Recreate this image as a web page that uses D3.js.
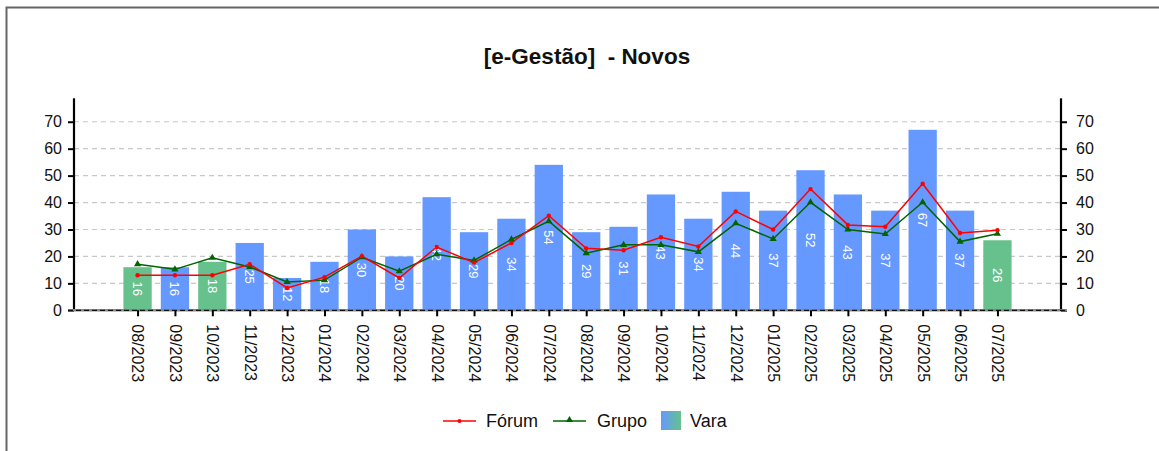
<!DOCTYPE html>
<html><head><meta charset="utf-8">
<script src="https://cdn.jsdelivr.net/npm/d3@7"></script>
<style>
html,body{margin:0;padding:0;background:#fff;}
svg{display:block;font-family:"Liberation Sans",Arial,sans-serif;}
</style></head>
<body>
<svg id="chart" width="1159" height="451"></svg>
<script>
const months = ["08/2023","09/2023","10/2023","11/2023","12/2023","01/2024","02/2024","03/2024","04/2024","05/2024","06/2024","07/2024","08/2024","09/2024","10/2024","11/2024","12/2024","01/2025","02/2025","03/2025","04/2025","05/2025","06/2025","07/2025"];
const vara = [16,16,18,25,12,18,30,20,42,29,34,54,29,31,43,34,44,37,52,43,37,67,37,26];
const varaHighlight = [true,false,true,false,false,false,false,false,false,false,false,false,false,false,false,false,false,false,false,false,false,false,false,true];
const forum = [13,13,13,17.1,8.3,12.3,20.1,12,23.5,17.7,25,35.1,23,22.3,27.1,23.7,36.7,30,45,31.7,31,47,28.7,29.7];
const grupo = [17.1,15.2,19.5,16.1,10.5,11.2,19.7,14.5,20.8,18.5,26.3,33.1,21.2,24.3,24.3,21.7,32.3,26.5,40.1,30,28.3,40.1,25.5,28.4];
const yTicks = [0,10,20,30,40,50,60,70];
const title = "[e-Gestão]  - Novos";
const legendItems = ["Fórum","Grupo","Vara"];

const svg = d3.select("#chart");
const L = 74, R = 1061, T = 98.3, B = 310.3;
const BLUE = "#6699FF", GREEN = "#66C18C", RED = "#FF0000", DGREEN = "#006400";

// frame
svg.append("path").attr("d","M6.5,451 V7.5 H1159").attr("fill","none").attr("stroke","#666").attr("stroke-width",2);

svg.append("text").attr("x",587).attr("y",64).attr("text-anchor","middle")
  .attr("font-size",22.5).attr("font-weight","bold").attr("fill","#111")
  .style("white-space","pre").text(title);

const x = d3.scalePoint().domain(months).range([L,R]).padding(1.7);
const step = x.step();
const bw = step*0.757;
const y = d3.scaleLinear().domain([0,78.7]).range([B,T]);

// grid
svg.append("g").selectAll("line").data(yTicks.filter(d=>d>0)).join("line")
  .attr("x1",L).attr("x2",R).attr("y1",d=>y(d)).attr("y2",d=>y(d))
  .attr("stroke","#c8c8c8").attr("stroke-width",1.2).attr("stroke-dasharray","5,4");

// bars
svg.append("g").selectAll("rect").data(vara).join("rect")
  .attr("x",(d,i)=>x(months[i])-bw/2).attr("width",bw)
  .attr("y",d=>y(d)).attr("height",d=>B-y(d))
  .attr("fill",(d,i)=>varaHighlight[i]?GREEN:BLUE);

// bar labels
svg.append("g").selectAll("text").data(vara).join("text")
  .attr("transform",(d,i)=>`translate(${x(months[i])},${(y(d)+B)/2}) rotate(90)`)
  .attr("text-anchor","middle").attr("dy","0.35em").attr("font-size",13).attr("fill","#fff")
  .text(d=>d);

// axes
const yAxisL = d3.axisLeft(y).tickValues(yTicks).tickSize(6).tickPadding(6);
const gl = svg.append("g").attr("transform",`translate(${L},0)`).call(yAxisL);
const yAxisR = d3.axisRight(y).tickValues(yTicks).tickSize(6).tickPadding(9);
const gr = svg.append("g").attr("transform",`translate(${R},0)`).call(yAxisR);
[gl,gr].forEach(g=>{
  g.select(".domain").attr("stroke","#000").attr("stroke-width",2.2).attr("d",`M0,${T}V${B}`);
  g.selectAll(".tick line").attr("stroke","#000").attr("stroke-width",2);
  g.selectAll(".tick text").attr("font-size",16).attr("fill","#111").attr("font-family","Liberation Sans, Arial, sans-serif");
});

// baseline
svg.append("line").attr("x1",L-6).attr("x2",R+6).attr("y1",B).attr("y2",B).attr("stroke","#888").attr("stroke-width",2.5);
svg.append("line").attr("x1",L-6).attr("x2",R+6).attr("y1",B).attr("y2",B).attr("stroke","#111").attr("stroke-width",1.2).attr("stroke-dasharray","5,3");

const xAxis = d3.axisBottom(x).tickSize(6).tickPadding(0);
const gx = svg.append("g").attr("transform",`translate(0,${B})`).call(xAxis);
gx.select(".domain").remove();
gx.selectAll(".tick line").attr("stroke","#000").attr("stroke-width",2);
gx.selectAll(".tick text").attr("font-size",16).attr("fill","#111").attr("font-family","Liberation Sans, Arial, sans-serif")
  .attr("transform","translate(0,14) rotate(90)").attr("text-anchor","start").attr("x",0).attr("y",0).attr("dy","0.35em");

// lines
const lineGen = arr => d3.line().x((d,i)=>x(months[i])).y(d=>y(d))(arr);
svg.append("path").attr("d",lineGen(grupo)).attr("fill","none").attr("stroke",DGREEN).attr("stroke-width",1.5);
svg.append("path").attr("d",lineGen(forum)).attr("fill","none").attr("stroke",RED).attr("stroke-width",1.5);
const tri = d3.symbol().type(d3.symbolTriangle).size(22);
svg.append("g").selectAll("path").data(grupo).join("path")
  .attr("transform",(d,i)=>`translate(${x(months[i])},${y(d)})`).attr("d",tri).attr("fill",DGREEN);
svg.append("g").selectAll("circle").data(forum).join("circle")
  .attr("cx",(d,i)=>x(months[i])).attr("cy",d=>y(d)).attr("r",2.2).attr("fill",RED);

// legend
const defs = svg.append("defs");
const grad = defs.append("linearGradient").attr("id","vg");
grad.append("stop").attr("offset","0%").attr("stop-color",BLUE);
grad.append("stop").attr("offset","100%").attr("stop-color",GREEN);
const ly = 421;
const lg = svg.append("g").attr("font-size",18).attr("fill","#111");
lg.append("line").attr("x1",443).attr("x2",476).attr("y1",ly).attr("y2",ly).attr("stroke",RED).attr("stroke-width",1.5);
lg.append("circle").attr("cx",459.5).attr("cy",ly).attr("r",2).attr("fill",RED);
lg.append("text").attr("x",486).attr("y",ly).attr("dy","0.35em").text(legendItems[0]);
lg.append("line").attr("x1",553).attr("x2",586).attr("y1",ly).attr("y2",ly).attr("stroke",DGREEN).attr("stroke-width",1.5);
lg.append("path").attr("transform",`translate(569.5,${ly-1})`).attr("d",tri).attr("fill",DGREEN);
lg.append("text").attr("x",597).attr("y",ly).attr("dy","0.35em").text(legendItems[1]);
lg.append("rect").attr("x",661).attr("y",411).attr("width",20).attr("height",19).attr("fill","url(#vg)");
lg.append("text").attr("x",690).attr("y",ly).attr("dy","0.35em").text(legendItems[2]);
</script>
</body></html>
